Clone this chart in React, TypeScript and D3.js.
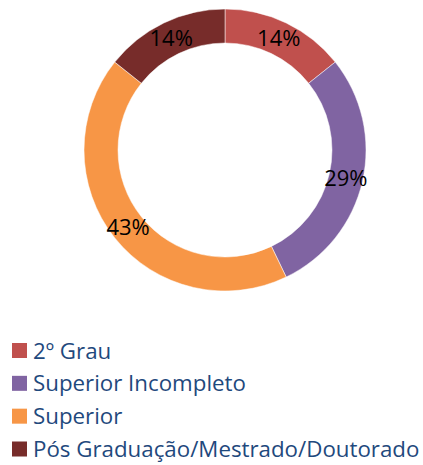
import React from 'react'
import * as d3 from 'd3'

const categories = ['2º Grau', 'Superior Incompleto', 'Superior', 'Pós Graduação/Mestrado/Doutorado']
const counts = [1, 2, 3, 1]
const colors = ['#C0504D', '#8064A2', '#F79646', '#772C2A']

export default function App() {
  const width = 423, height = 465
  const cx = 225, cy = 150
  const outerR = 141, innerR = 107
  const total = d3.sum(counts)
  const pie = d3.pie<number>().sort(null).value(d => d)
  const arcs = pie(counts)
  const arc = d3.arc<d3.PieArcDatum<number>>().innerRadius(innerR).outerRadius(outerR)
  const legendY = d3.scalePoint<string>().domain(categories).range([350.5, 449])
  const font = "'Open Sans', 'DejaVu Sans', sans-serif"

  return (
    <svg width={width} height={height} style={{ position: 'absolute', left: 0, top: 0 }}>
      <g transform={`translate(${cx},${cy})`}>
        {arcs.map((a, i) => (
          <path key={i} d={arc(a) || ''} fill={colors[i]} stroke="#fff" strokeWidth={0.5} />
        ))}
        {arcs.map((a, i) => {
          const [x, y] = arc.centroid(a)
          return (
            <text key={'t' + i} x={x} y={y} dy="0.36em" textAnchor="middle"
              fontFamily={font} fontSize={22} fill="#000">
              {d3.format('.0%')(a.data / total)}
            </text>
          )
        })}
      </g>
      {categories.map((c, i) => (
        <g key={c} transform={`translate(12,${legendY(c)})`}>
          <rect x={0} y={-7.5} width={15} height={15} fill={colors[i]} />
          <text x={21} y={0} dy="0.36em" fontFamily={font} fontSize={22.3} fill="#1F497D">{c}</text>
        </g>
      ))}
    </svg>
  )
}
